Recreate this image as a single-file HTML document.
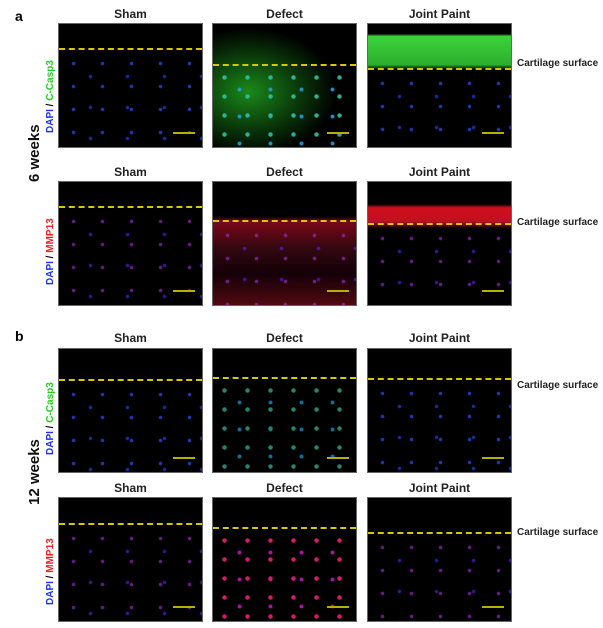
<!DOCTYPE html>
<html><head><style>
body{margin:0;width:603px;height:628px;background:#fff;position:relative;overflow:hidden;font-family:"Liberation Sans",sans-serif}
.p{position:absolute;width:145px;height:125px;background:#000;border:1px solid #666;box-sizing:border-box;overflow:hidden}
.d{position:absolute;left:0;right:0;bottom:0}
.t{position:absolute;width:145px;text-align:center;font-weight:bold;font-size:12px;color:#222}
.cs{position:absolute;left:517px;font-size:10px;font-weight:bold;color:#222}
.v{position:absolute;transform:rotate(-90deg);transform-origin:left top;font-weight:bold;font-size:10px;white-space:nowrap}
.big{position:absolute;transform:rotate(-90deg);transform-origin:left top;font-weight:bold;font-size:15px;white-space:nowrap;color:#111}
.sb{position:absolute;right:7px;bottom:13px;width:22px;height:2px;background:#b8b000}
.bl{background:radial-gradient(circle,#3050ff 1.3px,transparent 2.2px) 0 0/29px 23px,radial-gradient(circle,#2040e0 1.3px,transparent 2.2px) 13px 9px/37px 31px}
.mg{background:radial-gradient(circle,#b030e0 1.3px,transparent 2.2px) 0 0/29px 23px,radial-gradient(circle,#6020ff 1.3px,transparent 2.2px) 13px 9px/37px 31px}
.gr{background:radial-gradient(circle,#30c0a0 1.8px,transparent 2.6px) 0 0/23px 19px,radial-gradient(circle,#20a0e0 1.5px,transparent 2.4px) 11px 8px/31px 27px}
.rd{background:radial-gradient(circle,#ff2080 1.8px,transparent 2.6px) 0 0/23px 19px,radial-gradient(circle,#c020c0 1.5px,transparent 2.4px) 11px 8px/31px 27px}
</style></head><body>
<div style="position:absolute;left:15px;top:8px;font-weight:bold;font-size:14px">a</div>
<div style="position:absolute;left:15px;top:328px;font-weight:bold;font-size:14px">b</div>
<div class="big" style="left:26px;top:182px">6 weeks</div>
<div class="big" style="left:26px;top:505px">12 weeks</div>
<div class="v" style="left:45px;top:133px"><span style="color:#2233ee">DAPI</span> / <span style="color:#22cc22">C-Casp3</span></div>
<div class="v" style="left:45px;top:285px"><span style="color:#2233ee">DAPI</span> / <span style="color:#ee2222">MMP13</span></div>
<div class="v" style="left:45px;top:455px"><span style="color:#2233ee">DAPI</span> / <span style="color:#22cc22">C-Casp3</span></div>
<div class="v" style="left:45px;top:605px"><span style="color:#2233ee">DAPI</span> / <span style="color:#ee2222">MMP13</span></div>

<div class="t" style="left:58px;top:7px">Sham</div><div class="t" style="left:212px;top:7px">Defect</div><div class="t" style="left:367px;top:7px">Joint Paint</div>
<div class="t" style="left:58px;top:165px">Sham</div><div class="t" style="left:212px;top:165px">Defect</div><div class="t" style="left:367px;top:165px">Joint Paint</div>
<div class="t" style="left:58px;top:331px">Sham</div><div class="t" style="left:212px;top:331px">Defect</div><div class="t" style="left:367px;top:331px">Joint Paint</div>
<div class="t" style="left:58px;top:481px">Sham</div><div class="t" style="left:212px;top:481px">Defect</div><div class="t" style="left:367px;top:481px">Joint Paint</div>

<!-- row1 -->
<div class="p" style="left:58px;top:23px"><div class="d bl" style="top:28px;opacity:.7"></div><div style="position:absolute;left:0;right:0;top:24px;border-top:2px dashed #d8c800"></div><div class="sb"></div></div>
<div class="p" style="left:212px;top:23px;background:radial-gradient(ellipse 110px 80px at 25% 55%,#1a8a1a,#0a3a0a 45%,#000 80%)"><div class="d gr" style="top:44px;opacity:.9"></div><div style="position:absolute;left:0;right:0;top:40px;border-top:2px dashed #d8c800"></div><div class="sb"></div></div>
<div class="p" style="left:367px;top:23px;background:linear-gradient(#000 0,#000 8%,#3bd23b 10%,#2eb02e 33%,#000 37%)"><div class="d bl" style="top:48px;opacity:.7"></div><div style="position:absolute;left:0;right:0;top:44px;border-top:2px dashed #d8c800"></div><div class="sb"></div></div>
<!-- row2 -->
<div class="p" style="left:58px;top:181px"><div class="d mg" style="top:28px;opacity:.6"></div><div style="position:absolute;left:0;right:0;top:24px;border-top:2px dashed #d8c800"></div><div class="sb"></div></div>
<div class="p" style="left:212px;top:181px;background:linear-gradient(#000 28%,#7a0818 32%,#300810 55%,#150008 75%,#500a10)"><div class="d mg" style="top:42px;opacity:.6"></div><div style="position:absolute;left:0;right:0;top:38px;border-top:2px dashed #d8c800"></div><div class="sb"></div></div>
<div class="p" style="left:367px;top:181px;background:linear-gradient(#000 18%,#d01020 21%,#c01020 32%,#000 38%)"><div class="d mg" style="top:45px;opacity:.6"></div><div style="position:absolute;left:0;right:0;top:41px;border-top:2px dashed #d8c800"></div><div class="sb"></div></div>
<!-- row3 -->
<div class="p" style="left:58px;top:348px"><div class="d bl" style="top:34px;opacity:.7"></div><div style="position:absolute;left:0;right:0;top:30px;border-top:2px dashed #d8c800"></div><div class="sb"></div></div>
<div class="p" style="left:212px;top:348px"><div class="d gr" style="top:32px;opacity:.7"></div><div style="position:absolute;left:0;right:0;top:28px;border-top:2px dashed #d8c800"></div><div class="sb"></div></div>
<div class="p" style="left:367px;top:348px"><div class="d bl" style="top:33px;opacity:.7"></div><div style="position:absolute;left:0;right:0;top:29px;border-top:2px dashed #d8c800"></div><div class="sb"></div></div>
<!-- row4 -->
<div class="p" style="left:58px;top:497px"><div class="d mg" style="top:29px;opacity:.6"></div><div style="position:absolute;left:0;right:0;top:25px;border-top:2px dashed #d8c800"></div><div class="sb"></div></div>
<div class="p" style="left:212px;top:497px"><div class="d rd" style="top:33px;opacity:.85"></div><div style="position:absolute;left:0;right:0;top:29px;border-top:2px dashed #d8c800"></div><div class="sb"></div></div>
<div class="p" style="left:367px;top:497px"><div class="d mg" style="top:38px;opacity:.6"></div><div style="position:absolute;left:0;right:0;top:34px;border-top:2px dashed #d8c800"></div><div class="sb"></div></div>

<div class="cs" style="top:58px">Cartilage surface</div>
<div class="cs" style="top:217px">Cartilage surface</div>
<div class="cs" style="top:380px">Cartilage surface</div>
<div class="cs" style="top:527px">Cartilage surface</div>
</body></html>
